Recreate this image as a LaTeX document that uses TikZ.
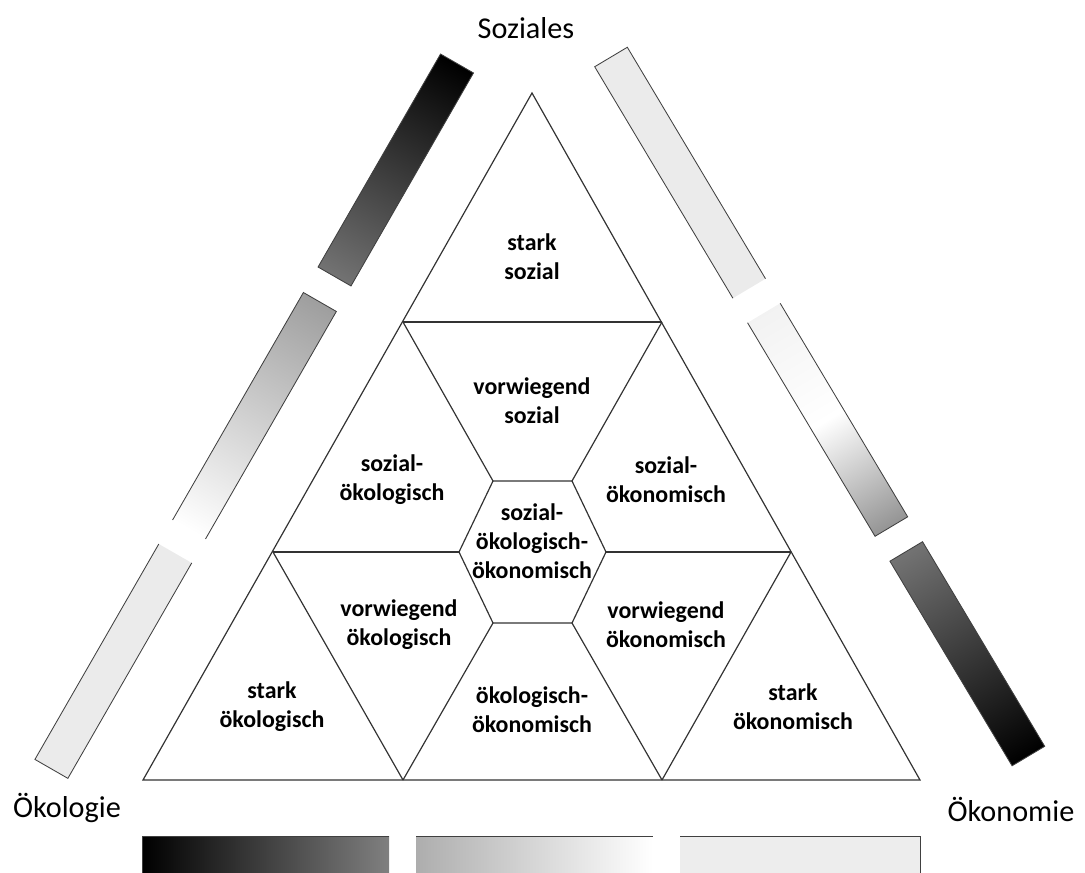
\documentclass[tikz,border=0pt]{standalone}
\usepackage{fontspec}
\setmainfont{Carlito}
\usetikzlibrary{calc}

\tikzset{
    field/.style = {align = center, inner sep = 0pt, font = \fontsize{17}{20.5}\selectfont\bfseries},
    pole/.style = {inner sep = 0pt, font = \fontsize{21.5}{26}\selectfont},
    gridline/.style = {black!80, line width = 0.85pt},
    baredge/.style = {black!75, line width = 0.6pt},
}

\begin{document}
\begin{tikzpicture}[x = 0.025cm, y = -0.025cm]

    \useasboundingbox (0,0) rectangle (1085,873);

    % big triangle and grid points
    \coordinate (A) at (143,780);
    \coordinate (B) at (920,780);
    \coordinate (C) at (532,93);
    \coordinate (L1) at (273,552);
    \coordinate (R1) at (791,552);
    \coordinate (L2) at (403,322);
    \coordinate (R2) at (662,322);
    \coordinate (D1) at (403,780);
    \coordinate (D2) at (662,780);

    % hexagon in the middle
    \coordinate (H1) at (493,481);
    \coordinate (H2) at (572,481);
    \coordinate (H3) at (606,552);
    \coordinate (H4) at (572,623);
    \coordinate (H5) at (493,623);
    \coordinate (H6) at (459,552);

    \draw[gridline] (A) -- (B) -- (C) -- cycle;
    \draw[gridline] (L2) -- (R2);
    \draw[gridline] (L1) -- (H6);
    \draw[gridline] (H3) -- (R1);
    \draw[gridline] (L2) -- (H1);
    \draw[gridline] (R2) -- (H2);
    \draw[gridline] (D1) -- (H5);
    \draw[gridline] (D2) -- (H4);
    \draw[gridline] (L1) -- (D1);
    \draw[gridline] (R1) -- (D2);
    \draw[gridline] (H1) -- (H2) -- (H3) -- (H4) -- (H5) -- (H6) -- cycle;

    % fields
    \node (starksoz) [field] at (532,257) {stark\\sozial};
    \node (vorwsoz) [field] at (532,401) {vorwiegend\\sozial};
    \node (sozoek) [field] at (392,480) {sozial-\\ökologisch};
    \node (sozoekon) [field] at (666,480) {sozial-\\ökonomisch};
    \node (mitte) [field] at (532,541) {sozial-\\ökologisch-\\ökonomisch};
    \node (vorwoek) [field] at (399,625) {vorwiegend\\ökologisch};
    \node (vorwoekon) [field] at (666,625) {vorwiegend\\ökonomisch};
    \node (starkoek) [field] at (272,707) {stark\\ökologisch};
    \node (oekoekon) [field] at (532,710) {ökologisch-\\ökonomisch};
    \node (starkoekon) [field] at (793,707) {stark\\ökonomisch};

    % poles
    \node (soziales) [pole] at (526,28) {Soziales};
    \node (oekologie) [pole] at (67,808) {Ökologie};
    \node (oekonomie) [pole] at (1011,809) {Ökonomie};

    % left bar
    \begin{scope}[transform canvas = {shift = {(457,63.5)}, rotate = -119.9}]
        \shade[left color = black, right color = black!55] (0,-19) rectangle (245.7,19);
        \draw[baredge] (0,-19) rectangle (245.7,19);
        \shade[left color = black!38, right color = white] (275.1,-19) rectangle (537.5,19);
        \draw[baredge] (537.5,-19) -- (275.1,-19) -- (275.1,19) -- (537.5,19);
        \fill[black!8] (565.2,-19) rectangle (813.7,19);
        \draw[baredge] (565.2,-19) -- (813.7,-19) -- (813.7,19) -- (565.2,19);
    \end{scope}

    % right bar
    \begin{scope}[transform canvas = {shift = {(611,57)}, rotate = -59.16}]
        \fill[black!8] (0,-19) rectangle (269.6,19);
        \draw[baredge] (269.6,-19) -- (0,-19) -- (0,19) -- (269.6,19);
        \shade[left color = black!5, right color = black!42, middle color = white] (298.2,-19) rectangle (546.9,19);
        \draw[baredge] (298.2,-19) -- (546.9,-19) -- (546.9,19) -- (298.2,19);
        \shade[left color = black!55, right color = black] (575.9,-19) rectangle (814.2,19);
        \draw[baredge] (575.9,-19) rectangle (814.2,19);
    \end{scope}

    % bottom bar
    \shade[left color = black, right color = black!50] (142,836) rectangle (389,876);
    \draw[baredge] (389,836) -- (142,836) -- (142,876);
    \shade[left color = black!32, right color = white] (416,836) rectangle (653,876);
    \draw[baredge] (416,836) -- (653,836);
    \fill[black!7] (680,836) rectangle (920,876);
    \draw[baredge] (680,836) -- (920,836) -- (920,876);

\end{tikzpicture}
\end{document}
